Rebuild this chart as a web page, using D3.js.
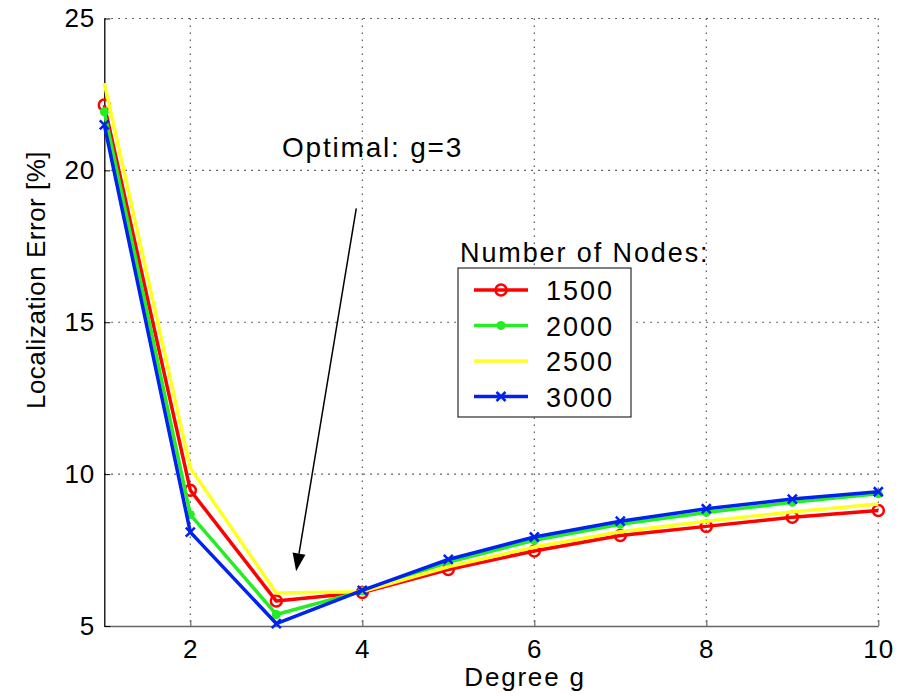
<!DOCTYPE html>
<html>
<head>
<meta charset="utf-8">
<script src="https://cdn.jsdelivr.net/npm/d3@7"></script>
<style>
  body { margin: 0; background: #fff; }
  text { font-family: "Liberation Sans", Arial, sans-serif; fill: #000; }
</style>
</head>
<body>
<div id="chart"></div>
<script>
// degree g
var degrees = [1, 2, 3, 4, 5, 6, 7, 8, 9, 10];
// localization error [%] per number of nodes
var err1500 = [22.15, 9.47, 5.82, 6.10, 6.86, 7.47, 7.98, 8.28, 8.58, 8.80];
var err2000 = [21.93, 8.67, 5.38, 6.15, 7.10, 7.82, 8.35, 8.74, 9.07, 9.35];
var err2500 = [22.87, 10.20, 6.09, 6.13, 6.95, 7.60, 8.10, 8.45, 8.75, 9.02];
var err3000 = [21.50, 8.09, 5.08, 6.17, 7.19, 7.93, 8.45, 8.86, 9.18, 9.42];
var seriesNames = ["1500", "2000", "2500", "3000"];
var xTicks = [2, 4, 6, 8, 10];
var yTicks = [5, 10, 15, 20, 25];

var series = [
  {name: seriesNames[0], values: err1500, color: "#ff0000", marker: "circle"},
  {name: seriesNames[1], values: err2000, color: "#22ee22", marker: "dot"},
  {name: seriesNames[2], values: err2500, color: "#ffff22", marker: "none"},
  {name: seriesNames[3], values: err3000, color: "#0022ee", marker: "cross"}
];

var margin = {top: 18.5, right: 25, bottom: 70, left: 104.3},
    width = 903 - margin.left - margin.right,
    height = 696 - margin.top - margin.bottom;

var svg = d3.select("#chart")
  .append("svg")
    .attr("width", 903)
    .attr("height", 696)
  .append("g")
    .attr("transform", "translate(" + margin.left + "," + margin.top + ")");

var x = d3.scaleLinear().domain([1, 10]).range([0, 774]);
var y = d3.scaleLinear().domain([5, 25]).range([607.5, 0]);

// dotted grid
svg.selectAll(".vgrid")
  .data(xTicks)
  .enter().append("line")
    .attr("x1", d => x(d)).attr("x2", d => x(d))
    .attr("y1", y(25)).attr("y2", y(5))
    .style("stroke", "#555")
    .style("stroke-width", 1.2)
    .style("stroke-dasharray", "1.5,5.5");

svg.selectAll(".hgrid")
  .data(yTicks.filter(d => d > 5))
  .enter().append("line")
    .attr("x1", x(1)).attr("x2", x(10))
    .attr("y1", d => y(d)).attr("y2", d => y(d))
    .style("stroke", "#333")
    .style("stroke-width", 1.2)
    .style("stroke-dasharray", "1.5,5.5");

// axes
var xAxis = svg.append("g")
  .attr("transform", "translate(0," + y(5) + ")")
  .call(d3.axisBottom(x).tickValues(xTicks).tickSizeInner(-6).tickSizeOuter(0).tickPadding(14));
xAxis.select(".domain").style("stroke", "#666").style("stroke-width", 1.5);
xAxis.selectAll(".tick line").style("stroke", "#666").style("stroke-width", 1.2);
xAxis.selectAll("text").style("font-size", "26px").style("font-family", "Liberation Sans, Arial, sans-serif")
  .style("letter-spacing", "1px").attr("fill", "#000");

var yAxis = svg.append("g")
  .call(d3.axisLeft(y).tickValues(yTicks).tickSizeInner(-6).tickSizeOuter(0).tickPadding(9));
yAxis.select(".domain").style("stroke", "#000").style("stroke-width", 1.3);
yAxis.selectAll(".tick line").style("stroke", "#000");
yAxis.selectAll("text").style("font-size", "26px").style("font-family", "Liberation Sans, Arial, sans-serif")
  .style("letter-spacing", "1px").attr("fill", "#000");

// axis titles
svg.append("text")
  .attr("x", 525 - margin.left)
  .attr("y", 686 - margin.top)
  .attr("text-anchor", "middle")
  .style("font-size", "26px")
  .style("letter-spacing", "1.8px")
  .text("Degree g");

svg.append("text")
  .attr("transform", "translate(" + (45 - margin.left) + "," + (280 - margin.top) + ")rotate(-90)")
  .attr("text-anchor", "middle")
  .style("font-size", "26px")
  .style("letter-spacing", "0.5px")
  .text("Localization Error [%]");

// lines
var line = d3.line()
  .x((d, i) => x(degrees[i]))
  .y(d => y(d));

series.forEach(function(s) {
  svg.append("path")
    .datum(s.values)
    .attr("d", line)
    .attr("fill", "none")
    .attr("stroke", s.color)
    .attr("stroke-width", 3.5)
    .attr("stroke-linejoin", "round");
  drawMarkers(svg, s, degrees.map(d => x(d)), s.values.map(v => y(v)));
});

function drawMarkers(g, s, xs, ys) {
  xs.forEach(function(px, i) {
    addMarker(g, s, px, ys[i]);
  });
}

function addMarker(g, s, px, py) {
  if (s.marker == "circle") {
    g.append("circle")
      .attr("cx", px).attr("cy", py).attr("r", 5.5)
      .attr("fill", "none").attr("stroke", s.color).attr("stroke-width", 2.5);
  } else if (s.marker == "dot") {
    g.append("circle")
      .attr("cx", px).attr("cy", py).attr("r", 4.5)
      .attr("fill", s.color);
  } else if (s.marker == "cross") {
    var k = 4.5;
    g.append("path")
      .attr("d", "M" + (px - k) + "," + (py - k) + "L" + (px + k) + "," + (py + k) +
                 "M" + (px - k) + "," + (py + k) + "L" + (px + k) + "," + (py - k))
      .attr("stroke", s.color).attr("stroke-width", 2.5);
  }
}

// annotation arrow
var tail = [3.93, 18.75], tip = [3.23, 6.8];
var tx = x(tail[0]), ty = y(tail[1]), hx = x(tip[0]), hy = y(tip[1]);
var ang = Math.atan2(hy - ty, hx - tx);
var headLen = 18, headW = 6.5;
var bx = hx - headLen * Math.cos(ang), by = hy - headLen * Math.sin(ang);
svg.append("line")
  .attr("x1", tx).attr("y1", ty).attr("x2", bx).attr("y2", by)
  .style("stroke", "#000").style("stroke-width", 1.5);
svg.append("path")
  .attr("d", "M" + hx + "," + hy +
             "L" + (bx + headW * Math.sin(ang)) + "," + (by - headW * Math.cos(ang)) +
             "L" + (bx - headW * Math.sin(ang)) + "," + (by + headW * Math.cos(ang)) + "Z")
  .attr("fill", "#000");

svg.append("text")
  .attr("x", 282 - margin.left)
  .attr("y", 157 - margin.top)
  .style("font-size", "28px")
  .style("letter-spacing", "1.8px")
  .text("Optimal: g=3");

// legend
var lg = svg.append("g").attr("transform", "translate(" + (458 - margin.left) + "," + (268 - margin.top) + ")");
lg.append("text")
  .attr("x", 2).attr("y", -6)
  .style("font-size", "27px")
  .style("letter-spacing", "1.9px")
  .text("Number of Nodes:");
lg.append("rect")
  .attr("width", 173).attr("height", 149)
  .attr("fill", "#fff").attr("stroke", "#000").attr("stroke-width", 1);

series.forEach(function(s, i) {
  var cy = 22 + i * 35.5;
  lg.append("line")
    .attr("x1", 16).attr("x2", 70).attr("y1", cy).attr("y2", cy)
    .attr("stroke", s.color).attr("stroke-width", 3.5);
  addMarker(lg, s, 43, cy);
  lg.append("text")
    .attr("x", 88).attr("y", cy + 10)
    .style("font-size", "27px")
    .style("letter-spacing", "2px")
    .text(s.name);
});
</script>
</body>
</html>
